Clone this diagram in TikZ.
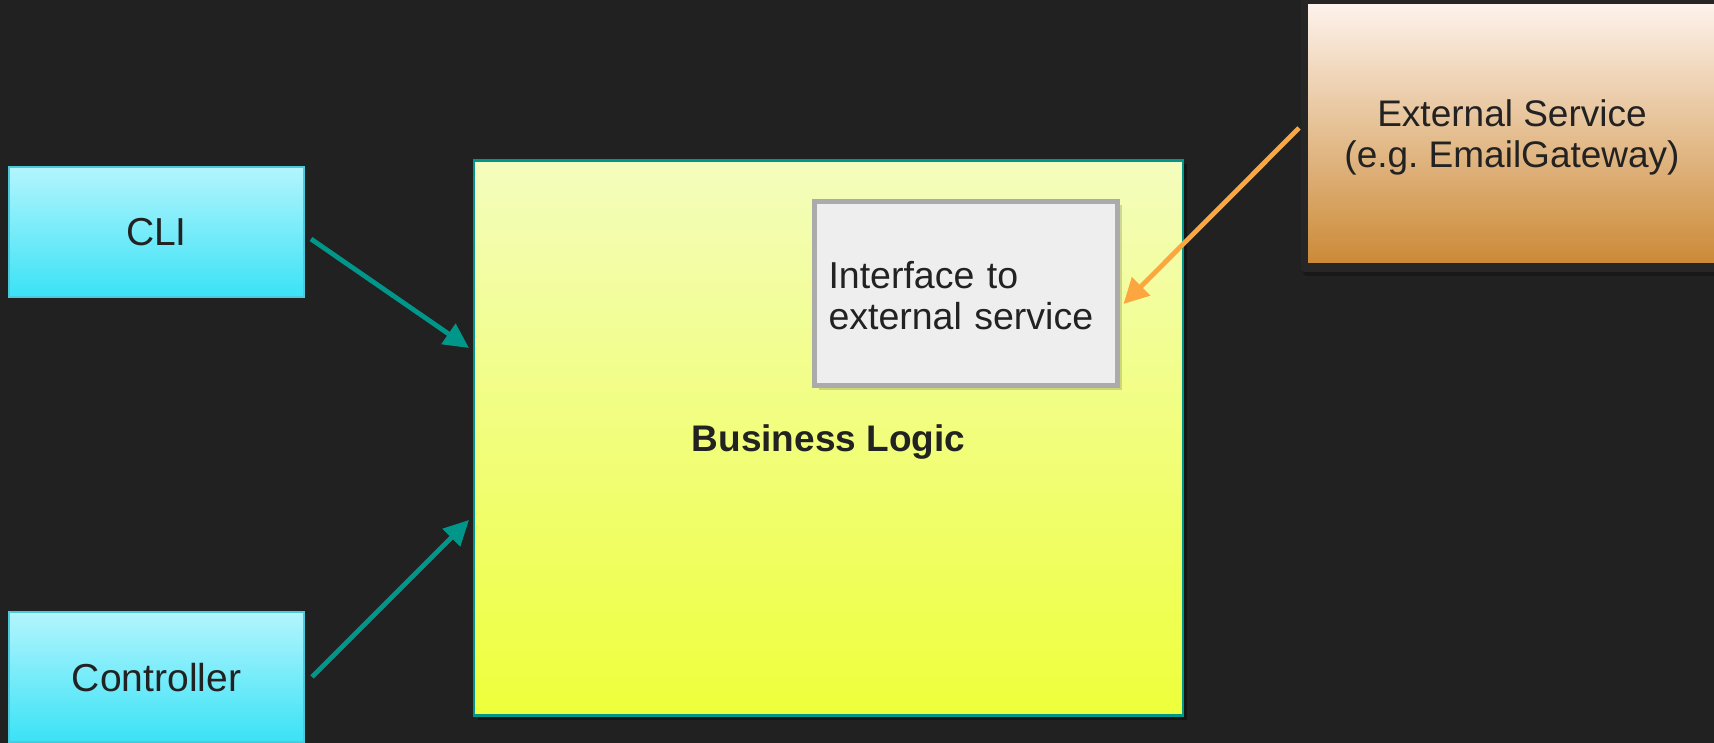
\documentclass[tikz,border=0pt]{standalone}
\usepackage{fontspec}
\setmainfont{Liberation Sans}
\usetikzlibrary{arrows.meta,calc,shadows}
\definecolor{bg}{HTML}{212121}
\definecolor{ink}{HTML}{222222}
\definecolor{teal}{HTML}{00978A}
\definecolor{cyantop}{HTML}{B3F5FD}
\definecolor{cyanbot}{HTML}{3AE2F6}
\definecolor{cyanline}{HTML}{4CC9DB}
\definecolor{yeltop}{HTML}{F4FDBD}
\definecolor{yelbot}{HTML}{EEFF3A}
\definecolor{exttop}{HTML}{FDF2EA}
\definecolor{extbot}{HTML}{CC8A37}
\definecolor{ifill}{HTML}{EEEEEE}
\definecolor{iline}{HTML}{ABABAB}
\definecolor{orangearrow}{HTML}{FBA63F}
\definecolor{frame}{HTML}{262626}
\frenchspacing
\begin{document}
\begin{tikzpicture}[x=0.5pt,y=-0.5pt,
  clientbox/.style={draw=cyanline, line width=0.6pt, top color=cyantop, bottom color=cyanbot,
    minimum width=147.5pt, minimum height=65pt, inner sep=0pt, outer sep=0pt,
    text height=14pt, text depth=0pt,
    text=ink, font=\fontsize{19.5pt}{23pt}\selectfont},
  corebox/.style={draw=teal, line width=1.1pt, top color=yeltop, bottom color=yelbot,
    minimum width=354.5pt, minimum height=277.5pt, inner sep=0pt, outer sep=0pt,
    text height=13.2pt, text depth=0pt,
    text=ink, font=\bfseries\fontsize{18.5pt}{22pt}\selectfont,
    drop shadow={fill=black, opacity=0.35, shadow xshift=2pt, shadow yshift=-2pt}},
  portbox/.style={draw=iline, line width=2.5pt, fill=ifill, align=left,
    text width=137.5pt, inner xsep=7pt, inner ysep=0pt,
    minimum height=92pt, outer sep=0pt,
    text=ink, font=\fontsize{18.75pt}{20.5pt}\selectfont,
    drop shadow={fill=black, opacity=0.15, shadow xshift=2pt, shadow yshift=-2pt}},
  servicebox/.style={top color=exttop, bottom color=extbot, align=center,
    minimum width=204pt, minimum height=129pt, inner sep=0pt, outer sep=0pt,
    text depth=0pt,
    text=ink, font=\fontsize{18.5pt}{20.5pt}\selectfont},
  flow/.style={draw=teal, line width=2.4pt, -{Triangle[length=12.5pt,width=12pt]}},
  callback/.style={draw=orangearrow, line width=2.4pt, -{Triangle[length=12.5pt,width=12.5pt]}}
]
\fill[bg] (0,0) rectangle (1714,743);
\useasboundingbox (0,0) rectangle (1714,743);

% dark frame behind the external service
\fill[frame, rounded corners=2pt, drop shadow={fill=black, opacity=0.25, shadow xshift=1pt, shadow yshift=-2pt}]
  (1301,-20) rectangle (1730,272);

% nodes
\node[clientbox] (cli) at (156.5,232) {CLI};
\node[clientbox] (ctrl) at (156.5,677) {Controller};
\node[corebox] (core) at (828.5,438) {Business Logic};
\node[portbox] (port) at (966,293.5) {\rule{0pt}{16pt}Interface to\\external service};
\node[servicebox] (ext) at (1512,134) {External Service\\(e.g. EmailGateway)};

% connector end points
\coordinate (cliout) at ($(cli.east)+(7,7)$);
\coordinate (ctrlout) at ($(ctrl.east)+(8,0)$);
\coordinate (corein1) at ($(core.west)+(-5,-90)$);
\coordinate (corein2) at ($(core.west)+(-5,82)$);
\coordinate (extout) at ($(ext.west)+(-9,-6)$);
\coordinate (portin) at ($(port.east)+(6,10.5)$);

% connectors
\draw[flow] (cliout) -- (corein1);
\draw[flow] (ctrlout) -- (corein2);
\draw[callback] (extout) -- (portin);
\end{tikzpicture}
\end{document}
